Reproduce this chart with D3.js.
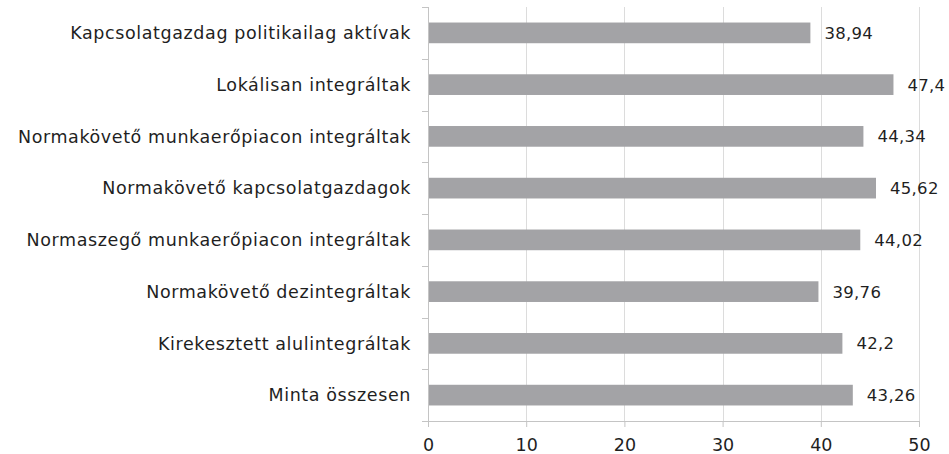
<!DOCTYPE html>
<html>
<head>
<meta charset="utf-8">
<script src="https://cdn.jsdelivr.net/npm/d3@7"></script>
<style>
  body { margin: 0; background: #fff; }
  text { font-family: "DejaVu Sans", sans-serif; fill: #1f1f1f; }
</style>
</head>
<body>
<div id="chart"></div>
<script>
var categories = [
  "Kapcsolatgazdag politikailag aktívak",
  "Lokálisan integráltak",
  "Normakövető munkaerőpiacon integráltak",
  "Normakövető kapcsolatgazdagok",
  "Normaszegő munkaerőpiacon integráltak",
  "Normakövető dezintegráltak",
  "Kirekesztett alulintegráltak",
  "Minta összesen"
];
var values = [38.94, 47.4, 44.34, 45.62, 44.02, 39.76, 42.2, 43.26];
var xTicks = [0, 10, 20, 30, 40, 50];

var width = 949, height = 454;
var margin = {top: 7, right: 30, bottom: 33, left: 428};

var svg = d3.select('#chart').append('svg')
  .attr('width', width)
  .attr('height', height);

var x = d3.scaleLinear().domain([0, 50]).range([margin.left, width - margin.right]);
var y = d3.scaleBand().domain(categories).range([margin.top, height - margin.bottom])
  .paddingInner(0.6).paddingOuter(0.3);

// vertical gridlines
svg.append('g')
  .selectAll('line')
  .data(xTicks.slice(1))
  .enter().append('line')
  .attr('x1', function(d){ return Math.round(x(d)) + 0.5; })
  .attr('x2', function(d){ return Math.round(x(d)) + 0.5; })
  .attr('y1', margin.top)
  .attr('y2', height - margin.bottom)
  .style('stroke', '#dcdcdc')
  .style('stroke-width', 1);

// bars
svg.append('g')
  .selectAll('rect')
  .data(values)
  .enter().append('rect')
  .attr('x', x(0) + 1)
  .attr('y', function(d, i){ return y(categories[i]); })
  .attr('width', function(d){ return x(d) - x(0) - 1; })
  .attr('height', y.bandwidth())
  .attr('fill', '#a3a3a6');

// value labels
svg.append('g')
  .selectAll('text')
  .data(values)
  .enter().append('text')
  .attr('x', function(d){ return x(d) + 14; })
  .attr('y', function(d, i){ return y(categories[i]) + y.bandwidth() / 2; })
  .attr('dy', '0.36em')
  .style('font-size', '16.5px')
  .style('letter-spacing', '0.3px')
  .text(function(d){ return String(d).replace('.', ','); });

// category axis (ticks at band boundaries)
var bounds = d3.range(categories.length + 1).map(function(i){ return margin.top + i * (height - margin.top - margin.bottom) / categories.length; });
var yax = svg.append('g');
yax.append('line')
  .attr('x1', x(0) + 0.5).attr('x2', x(0) + 0.5)
  .attr('y1', margin.top).attr('y2', height - margin.bottom)
  .style('stroke', '#c4c4c4');
yax.selectAll('line.tk')
  .data(bounds)
  .enter().append('line')
  .attr('class', 'tk')
  .attr('x1', x(0) - 6).attr('x2', x(0))
  .attr('y1', function(d){ return Math.round(d) + 0.5; })
  .attr('y2', function(d){ return Math.round(d) + 0.5; })
  .style('stroke', '#c4c4c4');
yax.selectAll('text')
  .data(categories)
  .enter().append('text')
  .attr('x', x(0) - 17)
  .attr('y', function(d){ return y(d) + y.bandwidth() / 2; })
  .attr('dy', '0.36em')
  .attr('text-anchor', 'end')
  .style('font-size', '17.5px')
  .style('letter-spacing', '0.6px')
  .text(function(d){ return d; });

// value axis
var xAxis = d3.axisBottom(x).tickValues(xTicks).tickSize(6).tickPadding(12);
var gx = svg.append('g')
  .attr('transform', 'translate(0,' + (height - margin.bottom) + ')')
  .call(xAxis);
gx.select('.domain').remove();
gx.append('line')
  .attr('x1', x(0) - 6).attr('x2', x(50) + 0.5)
  .attr('y1', 0.5).attr('y2', 0.5)
  .style('stroke', '#c4c4c4');
gx.selectAll('.tick line').style('stroke', '#c4c4c4');
gx.selectAll('.tick text')
  .style('font-size', '17.5px')
  .style('font-family', '"DejaVu Sans", sans-serif')
  .attr('fill', '#1f1f1f');
</script>
</body>
</html>
